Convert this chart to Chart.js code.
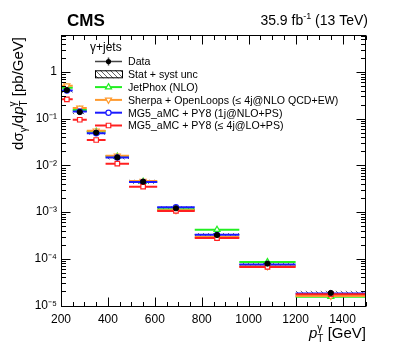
<!DOCTYPE html>
<html>
<head>
<meta charset="utf-8">
<script src="https://cdn.jsdelivr.net/npm/chart.js@4.4.1/dist/chart.umd.min.js"></script>
<style>
  html, body { margin: 0; padding: 0; background: #fff; }
  #wrap { width: 407px; height: 350px; }
</style>
</head>
<body>
<div id="wrap"><canvas id="chart" width="407" height="350"></canvas></div>
<script>
// pT bin edges [GeV]
const binEdges = [200, 250, 310, 390, 490, 610, 770, 960, 1200, 1500];

// dsigma/dpT [pb/GeV], one value per bin
const dataVals    = [0.41, 0.139, 0.0506, 0.0149, 0.00448, 0.00121, 3.23e-4, 7.9e-5, 1.86e-5];
const dataStatRel = [0.01, 0.01, 0.01, 0.015, 0.02, 0.02, 0.03, 0.04, 0.06];
const dataTotRel  = [0.12, 0.10, 0.10, 0.10, 0.10, 0.10, 0.10, 0.12, 0.11];
const jetphoxVals = [0.46, 0.154, 0.053, 0.0155, 0.0045, 0.00115, 4.2e-4, 8.55e-5, 1.55e-5];
const sherpaVals  = [0.51, 0.170, 0.0553, 0.0161, 0.00463, 0.00110, 2.97e-4, 6.9e-5, 1.6e-5];
const mgNloVals   = [0.40, 0.143, 0.0487, 0.0148, 0.0044, 0.00127, 3.26e-4, 7.55e-5, 1.8e-5];
const mgLoVals    = [0.26, 0.095, 0.035, 0.0109, 0.0035, 0.00106, 2.79e-4, 6.7e-5, 1.75e-5];

const xTickValues = [200, 400, 600, 800, 1000, 1200, 1400];
const yTickValues = [1e-5, 1e-4, 1e-3, 1e-2, 1e-1, 1];
const yTickLabels = ['10⁻⁵', '10⁻⁴', '10⁻³', '10⁻²', '10⁻¹', '1'];

const FONT = '"Liberation Sans", Arial, Helvetica, sans-serif';

const binCenters = binEdges.slice(0, -1).map((lo, i) => (lo + binEdges[i + 1]) / 2);

// horizontal bin lines with a marker at the centre, broken between bins
function stepPoints(vals) {
  const pts = [];
  vals.forEach((v, i) => {
    pts.push({ x: binEdges[i], y: v });
    pts.push({ x: binCenters[i], y: v });
    pts.push({ x: binEdges[i + 1], y: v });
    pts.push({ x: binEdges[i + 1], y: null });
  });
  return pts;
}

function mcSet(label, vals, color, style, rot, radius) {
  return {
    label: label,
    data: stepPoints(vals),
    showLine: true,
    spanGaps: false,
    borderColor: color,
    borderWidth: 2,
    pointStyle: style,
    pointRotation: rot,
    pointBackgroundColor: '#fff',
    pointBorderColor: color,
    pointBorderWidth: 1.2,
    pointRadius: (c) => (c.dataIndex % 4 === 1 ? radius : 0),
    pointHoverRadius: 0
  };
}

const series = [
  { label: 'JetPhox (NLO)', vals: jetphoxVals, color: '#22ee22', style: 'triangle', rot: 0, r: 3.5 },
  { label: 'Sherpa + OpenLoops (≤ 4j@NLO QCD+EW)', vals: sherpaVals, color: '#ff9a2e', style: 'triangle', rot: 180, r: 3.5 },
  { label: 'MG5_aMC + PY8 (1j@NLO+PS)', vals: mgNloVals, color: '#1a1aff', style: 'circle', rot: 0, r: 2.6 },
  { label: 'MG5_aMC + PY8 (≤ 4j@LO+PS)', vals: mgLoVals, color: '#ff2020', style: 'rect', rot: 0, r: 3.2 }
];

let hatch = null;
function getHatch(ctx) {
  if (hatch) return hatch;
  const p = document.createElement('canvas');
  p.width = 5; p.height = 5;
  const c = p.getContext('2d');
  c.strokeStyle = '#555';
  c.lineWidth = 0.9;
  c.beginPath();
  c.moveTo(-1, -1); c.lineTo(6, 6);
  c.moveTo(-1, 4); c.lineTo(1, 6);
  c.moveTo(4, -1); c.lineTo(6, 1);
  c.stroke();
  hatch = ctx.createPattern(p, 'repeat');
  return hatch;
}

// draws a run of text pieces; returns total width
function drawPieces(ctx, pieces, x, y, measureOnly) {
  let cx = x;
  pieces.forEach((p) => {
    if (p.stack) {
      ctx.font = p.font;
      const w = Math.max(...p.stack.map((s) => ctx.measureText(s.t).width));
      if (!measureOnly) p.stack.forEach((s) => ctx.fillText(s.t, cx, y + s.dy));
      cx += w;
    } else {
      ctx.font = p.font;
      if (!measureOnly) ctx.fillText(p.t, cx, y + (p.dy || 0));
      cx += ctx.measureText(p.t).width;
    }
  });
  return cx - x;
}

const cmsPlugin = {
  id: 'cmsDecor',
  beforeDatasetsDraw(chart) {
    const { ctx, chartArea: a, scales: { x, y } } = chart;
    ctx.save();
    ctx.beginPath();
    ctx.rect(a.left, a.top, a.right - a.left, a.bottom - a.top);
    ctx.clip();
    ctx.fillStyle = getHatch(ctx);
    dataVals.forEach((v, i) => {
      const x0 = x.getPixelForValue(binEdges[i]);
      const x1 = x.getPixelForValue(binEdges[i + 1]);
      const y0 = y.getPixelForValue(v * (1 + dataTotRel[i]));
      const y1 = y.getPixelForValue(v * (1 - dataTotRel[i]));
      ctx.fillRect(x0, y0, x1 - x0, y1 - y0);
    });
    ctx.restore();
  },
  afterDatasetsDraw(chart) {
    const { ctx, scales: { x, y } } = chart;
    ctx.save();
    ctx.strokeStyle = '#000';
    ctx.lineWidth = 1;
    dataVals.forEach((v, i) => {
      const px = Math.round(x.getPixelForValue(binCenters[i])) + 0.5;
      ctx.beginPath();
      ctx.moveTo(px, y.getPixelForValue(v * (1 + dataStatRel[i])));
      ctx.lineTo(px, y.getPixelForValue(v * (1 - dataStatRel[i])));
      ctx.stroke();
    });
    ctx.restore();
  },
  afterDraw(chart) {
    const { ctx, chartArea: a, scales: { x, y } } = chart;
    ctx.save();
    ctx.strokeStyle = '#000';
    ctx.lineWidth = 1;
    const L = Math.round(a.left) + 0.5, R = Math.round(a.right) - 0.5;
    const T = Math.round(a.top) + 0.5, B = Math.round(a.bottom) - 0.5;
    ctx.strokeRect(L, T, R - L, B - T);

    // x ticks (inside, bottom and top)
    ctx.beginPath();
    for (let v = 200; v <= 1500; v += 50) {
      const px = Math.round(x.getPixelForValue(v)) + 0.5;
      const len = v % 200 === 0 ? 9 : 4.5;
      ctx.moveTo(px, B); ctx.lineTo(px, B - len);
      ctx.moveTo(px, T); ctx.lineTo(px, T + len);
    }
    // y ticks (inside, left and right)
    for (let e = -6; e <= 1; e++) {
      for (let m = 1; m <= 9; m++) {
        const v = m * Math.pow(10, e);
        if (v < y.min || v > y.max) continue;
        const py = Math.round(y.getPixelForValue(v)) + 0.5;
        const len = m === 1 ? 9 : 4.5;
        ctx.moveTo(L, py); ctx.lineTo(L + len, py);
        ctx.moveTo(R, py); ctx.lineTo(R - len, py);
      }
    }
    ctx.stroke();

    ctx.fillStyle = '#000';
    ctx.textBaseline = 'alphabetic';

    // CMS label and luminosity
    ctx.font = 'bold 17px ' + FONT;
    ctx.fillText('CMS', 67, 26);
    const lumi = [
      { t: '35.9 fb', font: '14px ' + FONT },
      { t: '-1', font: '9px ' + FONT, dy: -6 },
      { t: ' (13 TeV)', font: '14px ' + FONT }
    ];
    const lw = drawPieces(ctx, lumi, 0, 0, true);
    drawPieces(ctx, lumi, 368 - lw, 25, false);

    // x axis title
    const xt = [
      { t: 'p', font: 'italic 15px ' + FONT },
      { stack: [{ t: 'γ', dy: -7 }, { t: 'T', dy: 4 }], font: '10px ' + FONT },
      { t: ' [GeV]', font: '15px ' + FONT }
    ];
    const xw = drawPieces(ctx, xt, 0, 0, true);
    drawPieces(ctx, xt, 366 - xw, 338, false);

    // y axis title
    const yt = [
      { t: 'dσ', font: '15px ' + FONT },
      { t: 'γ', font: '10px ' + FONT, dy: 4 },
      { t: '/d', font: '15px ' + FONT },
      { t: 'p', font: 'italic 15px ' + FONT },
      { stack: [{ t: 'γ', dy: -7 }, { t: 'T', dy: 4 }], font: '10px ' + FONT },
      { t: ' [pb/GeV]', font: '15px ' + FONT }
    ];
    const yw = drawPieces(ctx, yt, 0, 0, true);
    ctx.save();
    ctx.translate(23, 37);
    ctx.rotate(-Math.PI / 2);
    drawPieces(ctx, yt, -yw, 0, false);
    ctx.restore();

    // legend
    ctx.font = '12px ' + FONT;
    ctx.fillText('γ+jets', 90, 51);
    const lx0 = 95, lx1 = 122, lxc = (lx0 + lx1) / 2, tx = 128;
    const rowY = [61.5, 74.3, 87.1, 99.9, 112.7, 125.5];
    ctx.font = '10.6px ' + FONT;
    ctx.textBaseline = 'middle';

    // Data entry
    ctx.strokeStyle = '#444';
    ctx.lineWidth = 1.5;
    ctx.beginPath();
    ctx.moveTo(lx0, rowY[0]); ctx.lineTo(lx1, rowY[0]);
    ctx.moveTo(lxc, rowY[0] - 4); ctx.lineTo(lxc, rowY[0] + 4);
    ctx.stroke();
    ctx.fillStyle = '#000';
    ctx.beginPath(); ctx.arc(lxc, rowY[0], 2.6, 0, 2 * Math.PI); ctx.fill();
    ctx.fillText('Data', tx, rowY[0] + 1);

    // Stat + syst entry
    ctx.fillStyle = getHatch(ctx);
    ctx.fillRect(lx0, rowY[1] - 4, lx1 - lx0, 8);
    ctx.strokeStyle = '#000';
    ctx.lineWidth = 1;
    ctx.strokeRect(lx0 + 0.5, rowY[1] - 3.5, lx1 - lx0, 7);
    ctx.fillStyle = '#000';
    ctx.fillText('Stat + syst unc', tx, rowY[1] + 1);

    series.forEach((s, k) => {
      const ry = rowY[k + 2];
      ctx.strokeStyle = s.color;
      ctx.lineWidth = 2;
      ctx.beginPath(); ctx.moveTo(lx0, ry); ctx.lineTo(lx1, ry); ctx.stroke();
      ctx.fillStyle = '#fff';
      ctx.lineWidth = 1.2;
      Chart.helpers.drawPoint(ctx, {
        pointStyle: s.style, rotation: s.rot, radius: s.r, borderWidth: 1.2
      }, lxc, ry);
      ctx.fillStyle = '#000';
      ctx.fillText(s.label, tx, ry + 1);
    });
    ctx.restore();
  }
};

const datasets = [
  {
    label: 'Data',
    data: dataVals.map((v, i) => ({ x: binCenters[i], y: v })),
    showLine: false,
    pointStyle: 'circle',
    pointRadius: 2.6,
    pointBackgroundColor: '#000',
    pointBorderColor: '#000',
    pointHoverRadius: 0
  }
];
series.slice().reverse().forEach((s) => datasets.push(mcSet(s.label, s.vals, s.color, s.style, s.rot, s.r)));

new Chart(document.getElementById('chart'), {
  type: 'scatter',
  data: { datasets: datasets },
  options: {
    responsive: false,
    animation: false,
    devicePixelRatio: 1,
    layout: { padding: { top: 35, right: 41, left: 0, bottom: 0 } },
    plugins: { legend: { display: false }, tooltip: { enabled: false } },
    scales: {
      x: {
        type: 'linear',
        min: 200,
        max: 1500,
        afterBuildTicks: (s) => { s.ticks = xTickValues.map((v) => ({ value: v })); },
        afterFit: (s) => { s.height = 43; },
        grid: { display: false, drawTicks: false },
        border: { display: false },
        ticks: {
          padding: 5,
          color: '#000',
          font: { family: FONT, size: 12 },
          maxRotation: 0,
          callback: (v) => String(v)
        }
      },
      y: {
        type: 'logarithmic',
        min: 0.93e-5,
        max: 6.2,
        afterBuildTicks: (s) => { s.ticks = yTickValues.map((v) => ({ value: v })); },
        afterFit: (s) => { s.width = 61; },
        grid: { display: false, drawTicks: false },
        border: { display: false },
        ticks: {
          padding: 4,
          color: '#000',
          font: { family: FONT, size: 12 },
          callback: (v) => {
            const k = yTickValues.findIndex((t) => Math.abs(Math.log10(t) - Math.log10(v)) < 1e-6);
            return k >= 0 ? yTickLabels[k] : '';
          }
        }
      }
    }
  },
  plugins: [cmsPlugin]
});
</script>
</body>
</html>
